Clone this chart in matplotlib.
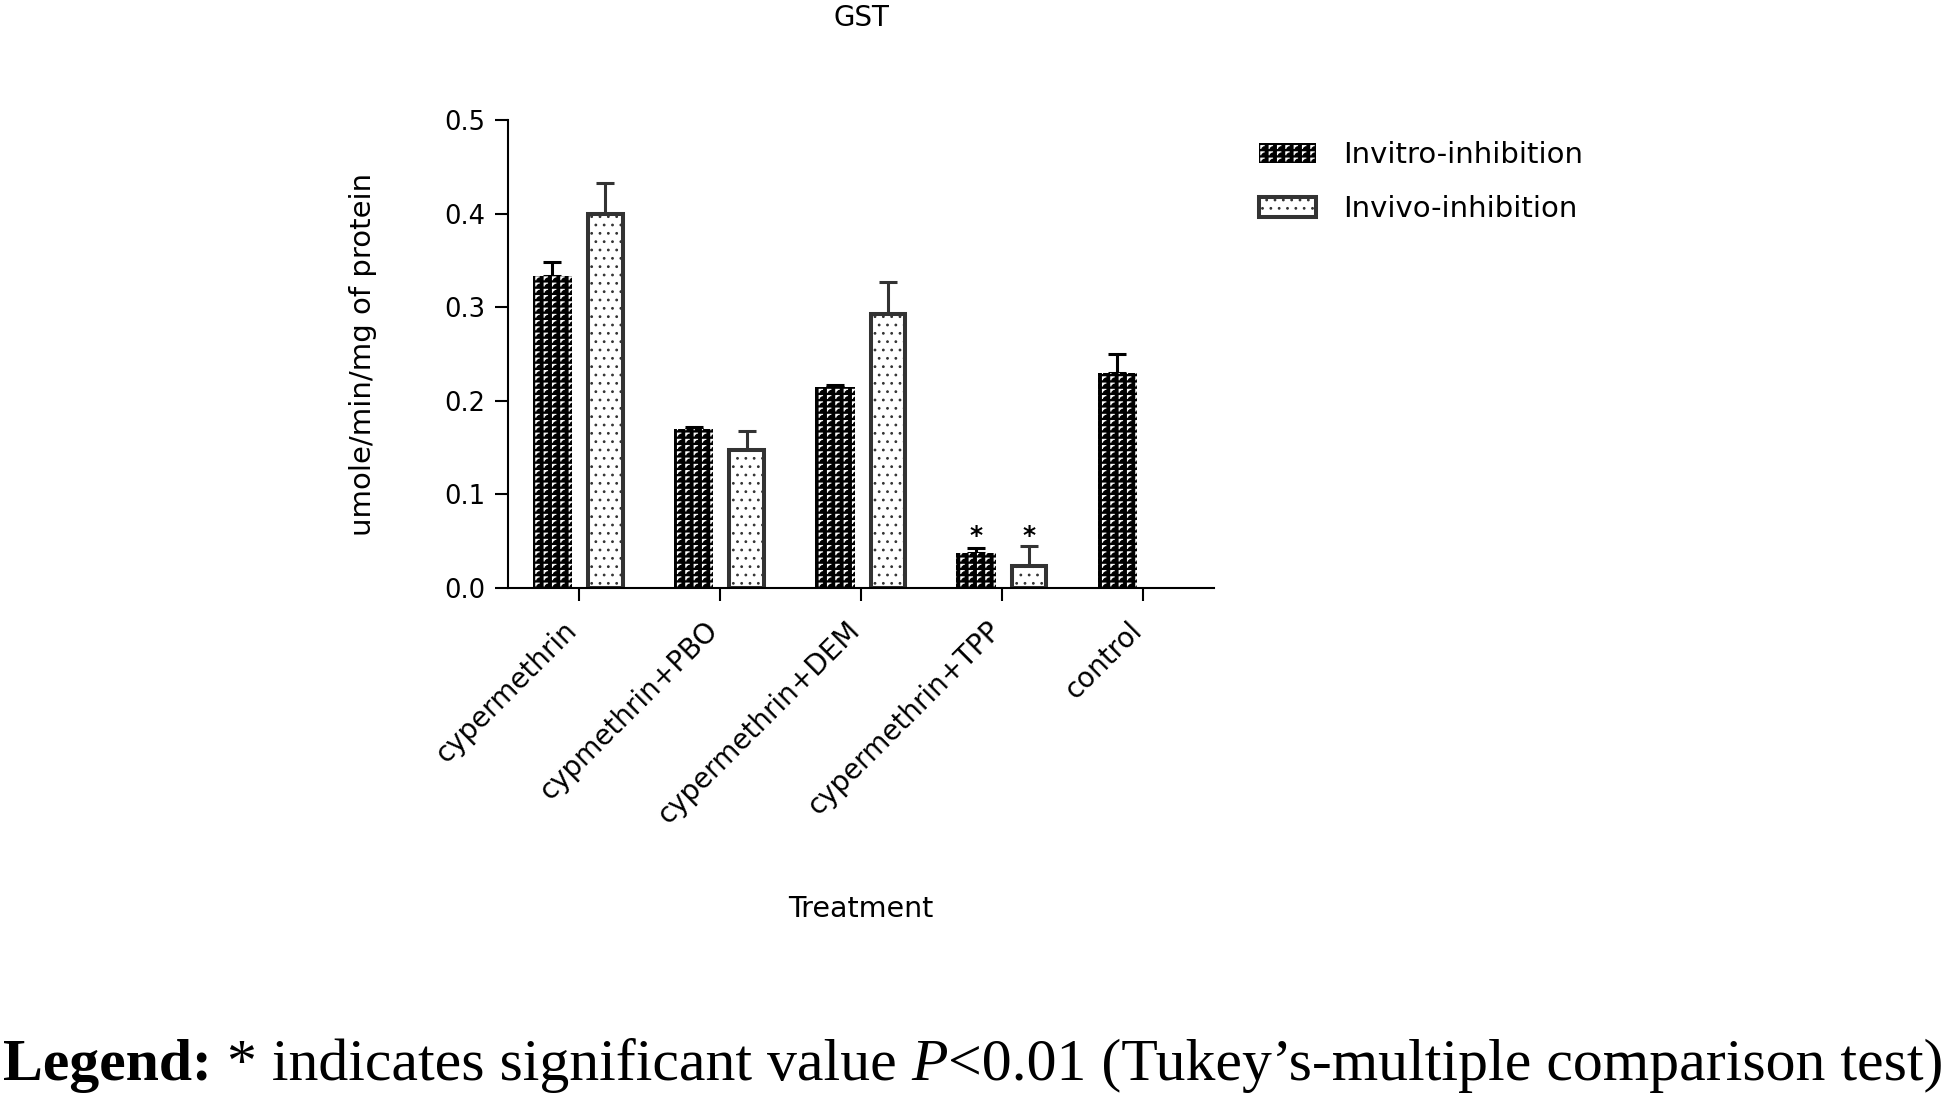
import warnings
warnings.filterwarnings('ignore')
import numpy as np
import matplotlib
matplotlib.use('Agg')
import matplotlib.pyplot as plt
import matplotlib.hatch as mhatch
from matplotlib.patches import Patch
from matplotlib.path import Path

# ---------------- data ----------------
categories = ['cypermethrin', 'cypmethrin+PBO', 'cypermethrin+DEM',
              'cypermethrin+TPP', 'control']
series_names = ['Invitro-inhibition', 'Invivo-inhibition']
invitro = [0.333, 0.170, 0.215, 0.037, 0.230]
invitro_err = [0.015, 0.002, 0.002, 0.006, 0.020]
invivo = [0.400, 0.147, 0.293, 0.024, np.nan]
invivo_err = [0.033, 0.021, 0.034, 0.021, np.nan]
significant = [False, False, False, True, False]
yticks = [0.0, 0.1, 0.2, 0.3, 0.4, 0.5]
ytick_labels = ['0.0', '0.1', '0.2', '0.3', '0.4', '0.5']
title = 'GST'
ylabel = 'umole/min/mg of protein'
xlabel = 'Treatment'
caption_parts = [('Legend:', 'bold', 'normal'),
                 ('* indicates significant value', 'normal', 'normal'),
                 ('P', 'normal', 'italic'),
                 ('<0.01 (Tukey\u2019s-multiple comparison test)', 'normal', 'normal')]
caption_space_after = [True, True, False, False]


# ---------------- custom hatch (small white corner marks) ----------------
class CornerHatch(mhatch.HatchPatternBase):
    def __init__(self, hatch, density):
        self.reps = hatch.count('L')
        self.nx = 12
        self.ny = 16
        self.num_vertices = 3 * self.nx * self.ny if self.reps else 0

    def set_vertices_and_codes(self, vertices, codes):
        k = 0
        w = 1.0 / self.nx
        h = 1.0 / self.ny
        for j in range(self.ny):
            for i in range(self.nx):
                x0 = i * w
                y0 = j * h
                vertices[k] = (x0 + 0.3 * w, y0 + 0.25 * h)
                vertices[k + 1] = (x0 + 0.3 * w, y0 + 0.7 * h)
                vertices[k + 2] = (x0 + 0.7 * w, y0 + 0.7 * h)
                codes[k] = Path.MOVETO
                codes[k + 1] = Path.LINETO
                codes[k + 2] = Path.LINETO
                k += 3


mhatch._hatch_types.append(CornerHatch)

plt.rcParams['font.family'] = ['DejaVu Sans']
plt.rcParams['hatch.linewidth'] = 0.8

W, H = 1946, 1100
fig = plt.figure(figsize=(W / 100, H / 100), dpi=100)
ax = fig.add_axes([508 / W, 1 - 588 / H, (1214 - 508) / W, (588 - 120) / H])

x = np.arange(len(categories))
invitro_a = np.array(invitro)
invitro_e = np.array(invitro_err)
invivo_a = np.array(invivo)
invivo_e = np.array(invivo_err)
off_vitro, off_vivo = -0.185, 0.19
dark = '#333333'

ax.bar(x + off_vitro, invitro_a, 0.28, facecolor='black', edgecolor='white',
       linewidth=0, hatch='L', zorder=2)
m = ~np.isnan(invivo_a)
ax.bar(x[m] + off_vivo, invivo_a[m], 0.245, facecolor='white', edgecolor=dark,
       linewidth=2.9, hatch='..', zorder=2)

ax.errorbar(x + off_vitro, invitro_a, yerr=[np.zeros_like(invitro_e), invitro_e],
            fmt='none', ecolor='black', elinewidth=2.2, capsize=6.5, capthick=2.2,
            zorder=1)
ax.errorbar(x[m] + off_vivo, invivo_a[m], yerr=[np.zeros(m.sum()), invivo_e[m]],
            fmt='none', ecolor=dark, elinewidth=2.2, capsize=6.5, capthick=2.2,
            zorder=1)

for i, sig in enumerate(significant):
    if not sig:
        continue
    tops = [invitro_a[i] + invitro_e[i]]
    if not np.isnan(invivo_a[i]):
        tops.append(invivo_a[i] + invivo_e[i])
    ytop = max(tops)
    for off in (off_vitro, off_vivo):
        ax.annotate('*', (x[i] + off, ytop), xytext=(0, 2),
                    textcoords='offset points', ha='center', va='baseline',
                    fontsize=18, fontweight='bold')

ax.set_xlim(-0.5, 4.5)
ax.set_ylim(0, 0.5)
ax.set_yticks(yticks)
ax.set_yticklabels(ytick_labels)
ax.set_xticks(x)
ax.set_xticklabels(categories, rotation=45, ha='right', va='baseline',
                   rotation_mode='anchor')
ax.tick_params(axis='both', direction='out', length=9.5, width=1.5,
               colors='black')
ax.tick_params(axis='y', pad=7, labelsize=18.5)
ax.tick_params(axis='x', pad=22, labelsize=20)
for s in ('top', 'right'):
    ax.spines[s].set_visible(False)
for s in ('left', 'bottom'):
    ax.spines[s].set_linewidth(1.5)

ax.set_ylabel(ylabel, fontsize=21)
ax.yaxis.set_label_coords(-0.185, 0.5)
ax.set_xlabel(xlabel, fontsize=20.5)
ax.xaxis.set_label_coords(0.5, -0.655)
ax.set_title(title, fontsize=20, pad=68)

handles = [Patch(facecolor='black', edgecolor='white', linewidth=0, hatch='L'),
           Patch(facecolor='white', edgecolor=dark, linewidth=2.9, hatch='..')]
fig.legend(handles, series_names, loc='upper left',
           bbox_to_anchor=(1259 / W, 1 - 141 / H), frameon=False, fontsize=21,
           handlelength=1.95, handleheight=0.7, handletextpad=0.95,
           labelspacing=0.9, borderpad=0, borderaxespad=0)

# ---------------- caption below the chart ----------------
fig.canvas.draw()
r = fig.canvas.get_renderer()
serif = 'Liberation Serif'


def adv(s, fs, weight, style):
    kw = dict(fontsize=fs, family=serif, fontweight=weight, fontstyle=style)
    t1 = fig.text(0, 0, '|' + s + '|', **kw)
    t2 = fig.text(0, 0, '||', **kw)
    w = t1.get_window_extent(r).width - t2.get_window_extent(r).width
    t1.remove()
    t2.remove()
    return w


fs0 = 38.0
sp0 = adv(' ', fs0, 'normal', 'normal')
total0 = sum(adv(s, fs0, wt, st) for s, wt, st in caption_parts) + \
    sp0 * sum(caption_space_after)
fs = fs0 * 1938 / total0
sp = adv(' ', fs, 'normal', 'normal')
xpos = 3.0
ybase = 1 - 1080 / H
for (s, wt, st), gap in zip(caption_parts, caption_space_after):
    fig.text(xpos / W, ybase, s, fontsize=fs, family=serif, fontweight=wt,
             fontstyle=st, ha='left', va='baseline')
    xpos += adv(s, fs, wt, st) + (sp if gap else 0)

fig.savefig('out.png', dpi=100)
